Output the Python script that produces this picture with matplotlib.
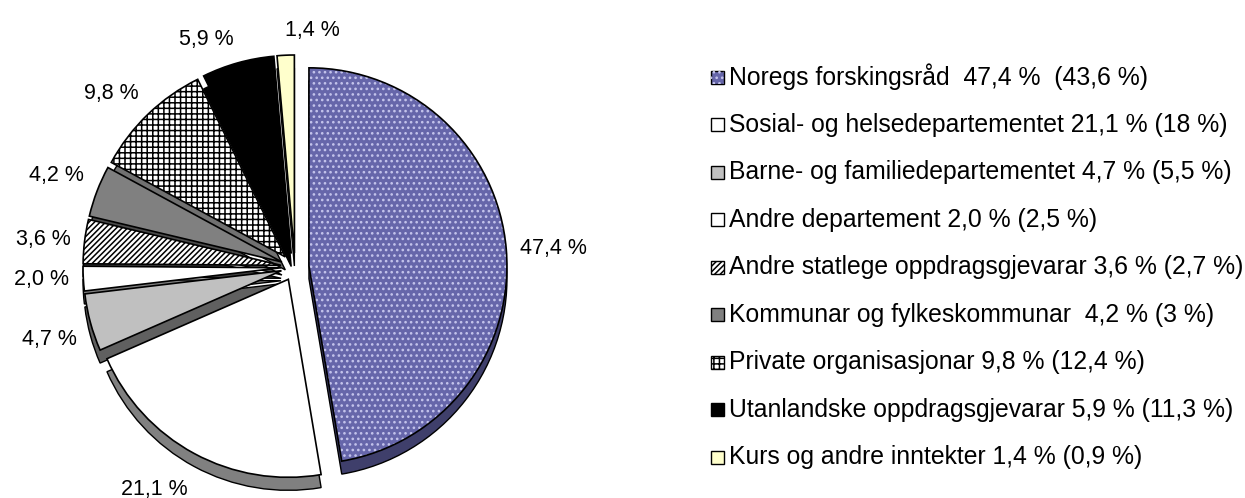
import numpy as np
import matplotlib
matplotlib.use("Agg")
import matplotlib.pyplot as plt
from matplotlib.patches import Rectangle

plt.rcParams['font.family'] = ['Liberation Sans', 'DejaVu Sans']
plt.rcParams['hatch.linewidth'] = 1.1

# share of income, percent (this year, last year in brackets)
shares = [47.4, 21.1, 4.7, 2.0, 3.6, 4.2, 9.8, 5.9, 1.4]
pct_labels = ['47,4 %', '21,1 %', '4,7 %', '2,0 %', '3,6 %', '4,2 %', '9,8 %', '5,9 %', '1,4 %']
legend_labels = [
    'Noregs forskingsråd  47,4 %  (43,6 %)',
    'Sosial- og helsedepartementet 21,1 % (18 %)',
    'Barne- og familiedepartementet 4,7 % (5,5 %)',
    'Andre departement 2,0 % (2,5 %)',
    'Andre statlege oppdragsgjevarar 3,6 % (2,7 %)',
    'Kommunar og fylkeskommunar  4,2 % (3 %)',
    'Private organisasjonar 9,8 % (12,4 %)',
    'Utanlandske oppdragsgjevarar 5,9 % (11,3 %)',
    'Kurs og andre inntekter 1,4 % (0,9 %)',
]

top_colors = ['#6666aa', '#ffffff', '#c0c0c0', '#ffffff', '#ffffff', '#808080', '#ffffff', '#000000', '#ffffcc']
side_colors = ['#3f3f6b', '#808080', '#606060', '#808080', '#404040', '#4a4a4a', '#707070', '#000000', '#9a9a70']
hatches = ['...', None, None, None, '//////', None, '+++', None, None]
hatch_colors = ['#c4c4ec', None, None, None, '#000000', None, '#000000', None, None]

W, H = 1245, 498
fig = plt.figure(figsize=(W / 100, H / 100), dpi=100)
ax = fig.add_axes([0, 0, 1, 1])

cx, cy = 295, H - 267     # pie centre (y up)
r = 198                   # radius
ex = 14                   # explode distance
depth = 13                # thickness of the 3d side

explode = [ex] * len(shares)
common = dict(radius=r, explode=explode, startangle=90, counterclock=False)

# side (extrusion) layer
ax.pie(shares, center=(cx, cy - depth), colors=side_colors,
       wedgeprops=dict(edgecolor='black', linewidth=1.0), **common)
# top layer
ax.pie(shares, center=(cx, cy), colors=top_colors,
       wedgeprops=dict(edgecolor='none', linewidth=0), **common)
# hatch layer
hw, _ = ax.pie(shares, center=(cx, cy), colors=['none'] * len(shares),
               wedgeprops=dict(linewidth=0), **common)
for w, h, hc in zip(hw, hatches, hatch_colors):
    if h:
        w.set_hatch(h)
        w.set_edgecolor(hc)
    else:
        w.set_visible(False)
# outline layer
ax.pie(shares, center=(cx, cy), colors=['none'] * len(shares),
       wedgeprops=dict(edgecolor='black', linewidth=1.2), **common)

# percentage labels outside the slices
total = sum(shares)
cum = np.cumsum([0] + shares[:-1])
for s, c0, lab in zip(shares, cum, pct_labels):
    a = np.deg2rad((c0 + s / 2) / total * 360)
    dx, dy = np.sin(a), np.cos(a)
    dist = ex + r * 1.07
    px, py = cx + dist * dx, cy + dist * dy
    ha = 'left' if dx > -0.1 else 'right'
    if dy > 0.3:
        va = 'bottom'
    elif dy < -0.3:
        va = 'top'
    else:
        va = 'center'
    if dy < -0.2:
        py -= depth
    ax.text(px, py, lab, ha=ha, va=va, fontsize=15.5)

# legend
lx, ly0, step, sq = 711, H - 77, 47.5, 13
for i, lab in enumerate(legend_labels):
    y = ly0 - i * step
    ax.add_patch(Rectangle((lx, y - sq / 2), sq, sq, facecolor=top_colors[i],
                           edgecolor='black', linewidth=1.0))
    if hatches[i]:
        ax.add_patch(Rectangle((lx, y - sq / 2), sq, sq, facecolor='none',
                               edgecolor=hatch_colors[i], linewidth=0,
                               hatch=hatches[i]))
    ax.text(lx + sq + 5, y, lab, ha='left', va='center', fontsize=17.8)

ax.set_xlim(0, W)
ax.set_ylim(0, H)
ax.set_aspect('equal')
ax.axis('off')

fig.savefig('out.png', dpi=100)
